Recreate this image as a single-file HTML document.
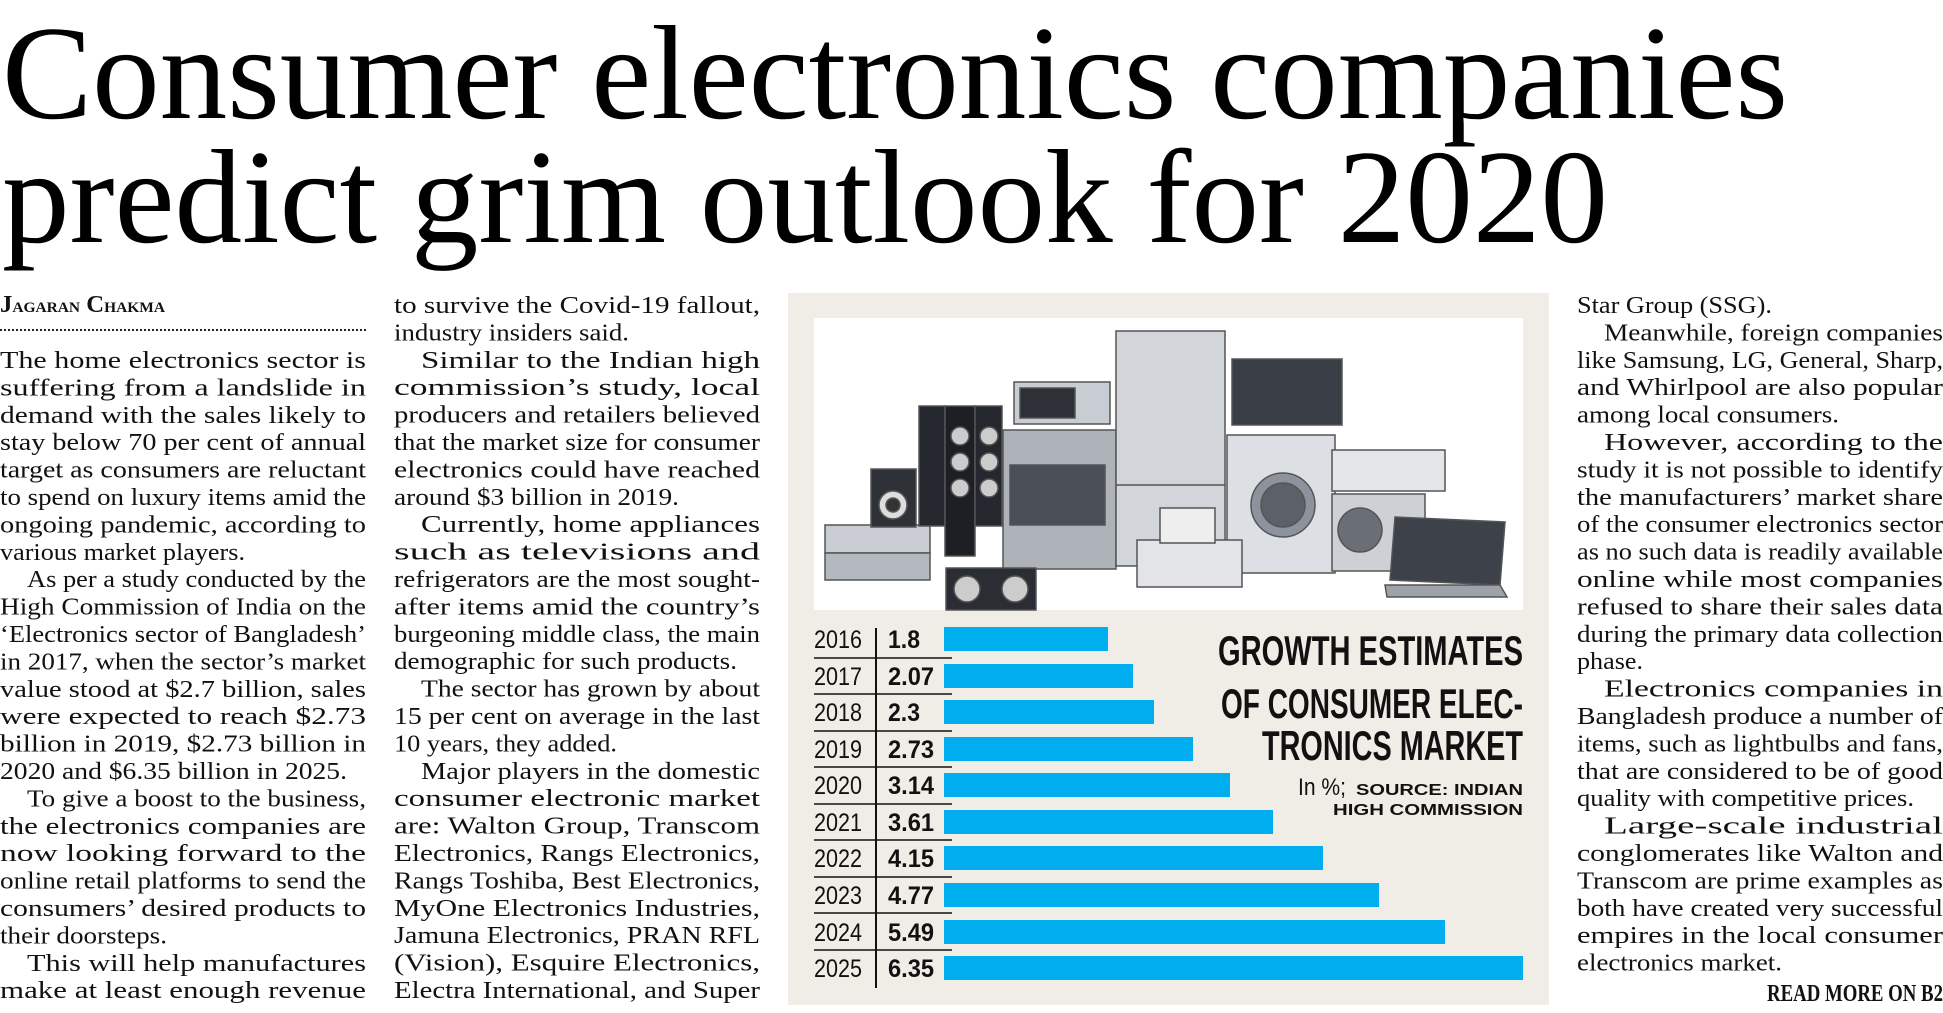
<!DOCTYPE html>
<html><head><meta charset="utf-8"><style>
html,body{margin:0;padding:0;background:#fff;}
svg{display:block;}
.b{font-family:"Liberation Serif",serif;font-size:24px;fill:#111;}
.t{font-family:"Liberation Serif",serif;font-size:134px;fill:#000;}
.yr{font-family:"Liberation Sans Narrow","Liberation Sans",sans-serif;font-size:25px;fill:#111;}
.vl{font-family:"Liberation Sans Narrow","Liberation Sans",sans-serif;font-size:25px;font-weight:bold;fill:#111;}
.ht{font-family:"Liberation Sans Narrow","Liberation Sans",sans-serif;font-size:42px;font-weight:bold;fill:#111;}
.src{font-family:"Liberation Sans",sans-serif;font-size:16px;font-weight:bold;fill:#111;}
</style></head><body>
<svg width="1943" height="1013" viewBox="0 0 1943 1013" xmlns="http://www.w3.org/2000/svg">
<rect width="1943" height="1013" fill="#fff"/>
<text class="t" x="2" y="118" textLength="1786" lengthAdjust="spacingAndGlyphs">Consumer electronics companies</text>
<text class="t" x="2" y="242" textLength="1606" lengthAdjust="spacingAndGlyphs">predict grim outlook for 2020</text>

<text class="b" x="0" y="312" textLength="165" lengthAdjust="spacingAndGlyphs" font-size="20" font-weight="bold">J<tspan font-size="15">AGARAN</tspan> C<tspan font-size="15">HAKMA</tspan></text>
<line x1="0" y1="330" x2="366" y2="330" stroke="#222" stroke-width="2" stroke-dasharray="2,2"/>

<g class="b" lengthAdjust="spacingAndGlyphs">
<text x="0" y="368" textLength="366" lengthAdjust="spacingAndGlyphs">The home electronics sector is</text>
<text x="0" y="395.4" textLength="366" lengthAdjust="spacingAndGlyphs">suffering from a landslide in</text>
<text x="0" y="422.8" textLength="366" lengthAdjust="spacingAndGlyphs">demand with the sales likely to</text>
<text x="0" y="450.2" textLength="366" lengthAdjust="spacingAndGlyphs">stay below 70 per cent of annual</text>
<text x="0" y="477.6" textLength="366" lengthAdjust="spacingAndGlyphs">target as consumers are reluctant</text>
<text x="0" y="505" textLength="366" lengthAdjust="spacingAndGlyphs">to spend on luxury items amid the</text>
<text x="0" y="532.4" textLength="366" lengthAdjust="spacingAndGlyphs">ongoing pandemic, according to</text>
<text x="0" y="559.8" textLength="245" lengthAdjust="spacingAndGlyphs">various market players.</text>
<text x="27" y="587.2" textLength="339" lengthAdjust="spacingAndGlyphs">As per a study conducted by the</text>
<text x="0" y="614.6" textLength="366" lengthAdjust="spacingAndGlyphs">High Commission of India on the</text>
<text x="0" y="642" textLength="366" lengthAdjust="spacingAndGlyphs">‘Electronics sector of Bangladesh’</text>
<text x="0" y="669.4" textLength="366" lengthAdjust="spacingAndGlyphs">in 2017, when the sector’s market</text>
<text x="0" y="696.8" textLength="366" lengthAdjust="spacingAndGlyphs">value stood at $2.7 billion, sales</text>
<text x="0" y="724.2" textLength="366" lengthAdjust="spacingAndGlyphs">were expected to reach $2.73</text>
<text x="0" y="751.6" textLength="366" lengthAdjust="spacingAndGlyphs">billion in 2019, $2.73 billion in</text>
<text x="0" y="779" textLength="347" lengthAdjust="spacingAndGlyphs">2020 and $6.35 billion in 2025.</text>
<text x="27" y="806.4" textLength="339" lengthAdjust="spacingAndGlyphs">To give a boost to the business,</text>
<text x="0" y="833.8" textLength="366" lengthAdjust="spacingAndGlyphs">the electronics companies are</text>
<text x="0" y="861.2" textLength="366" lengthAdjust="spacingAndGlyphs">now looking forward to the</text>
<text x="0" y="888.6" textLength="366" lengthAdjust="spacingAndGlyphs">online retail platforms to send the</text>
<text x="0" y="916" textLength="366" lengthAdjust="spacingAndGlyphs">consumers’ desired products to</text>
<text x="0" y="943.4" textLength="167" lengthAdjust="spacingAndGlyphs">their doorsteps.</text>
<text x="27" y="970.8" textLength="339" lengthAdjust="spacingAndGlyphs">This will help manufactures</text>
<text x="0" y="998.2" textLength="366" lengthAdjust="spacingAndGlyphs">make at least enough revenue</text>

<text x="394" y="313" textLength="366" lengthAdjust="spacingAndGlyphs">to survive the Covid-19 fallout,</text>
<text x="394" y="340.4" textLength="235" lengthAdjust="spacingAndGlyphs">industry insiders said.</text>
<text x="421" y="367.8" textLength="339" lengthAdjust="spacingAndGlyphs">Similar to the Indian high</text>
<text x="394" y="395.2" textLength="366" lengthAdjust="spacingAndGlyphs">commission’s study, local</text>
<text x="394" y="422.6" textLength="366" lengthAdjust="spacingAndGlyphs">producers and retailers believed</text>
<text x="394" y="450" textLength="366" lengthAdjust="spacingAndGlyphs">that the market size for consumer</text>
<text x="394" y="477.4" textLength="366" lengthAdjust="spacingAndGlyphs">electronics could have reached</text>
<text x="394" y="504.8" textLength="285" lengthAdjust="spacingAndGlyphs">around $3 billion in 2019.</text>
<text x="421" y="532.2" textLength="339" lengthAdjust="spacingAndGlyphs">Currently, home appliances</text>
<text x="394" y="559.6" textLength="366" lengthAdjust="spacingAndGlyphs">such as televisions and</text>
<text x="394" y="587" textLength="366" lengthAdjust="spacingAndGlyphs">refrigerators are the most sought-</text>
<text x="394" y="614.4" textLength="366" lengthAdjust="spacingAndGlyphs">after items amid the country’s</text>
<text x="394" y="641.8" textLength="366" lengthAdjust="spacingAndGlyphs">burgeoning middle class, the main</text>
<text x="394" y="669.2" textLength="343" lengthAdjust="spacingAndGlyphs">demographic for such products.</text>
<text x="421" y="696.6" textLength="339" lengthAdjust="spacingAndGlyphs">The sector has grown by about</text>
<text x="394" y="724" textLength="366" lengthAdjust="spacingAndGlyphs">15 per cent on average in the last</text>
<text x="394" y="751.4" textLength="223" lengthAdjust="spacingAndGlyphs">10 years, they added.</text>
<text x="421" y="778.8" textLength="339" lengthAdjust="spacingAndGlyphs">Major players in the domestic</text>
<text x="394" y="806.2" textLength="366" lengthAdjust="spacingAndGlyphs">consumer electronic market</text>
<text x="394" y="833.6" textLength="366" lengthAdjust="spacingAndGlyphs">are: Walton Group, Transcom</text>
<text x="394" y="861" textLength="366" lengthAdjust="spacingAndGlyphs">Electronics, Rangs Electronics,</text>
<text x="394" y="888.4" textLength="366" lengthAdjust="spacingAndGlyphs">Rangs Toshiba, Best Electronics,</text>
<text x="394" y="915.8" textLength="366" lengthAdjust="spacingAndGlyphs">MyOne Electronics Industries,</text>
<text x="394" y="943.2" textLength="366" lengthAdjust="spacingAndGlyphs">Jamuna Electronics, PRAN RFL</text>
<text x="394" y="970.6" textLength="366" lengthAdjust="spacingAndGlyphs">(Vision), Esquire Electronics,</text>
<text x="394" y="998" textLength="366" lengthAdjust="spacingAndGlyphs">Electra International, and Super</text>

<text x="1577" y="313" textLength="195" lengthAdjust="spacingAndGlyphs">Star Group (SSG).</text>
<text x="1604" y="340.4" textLength="339" lengthAdjust="spacingAndGlyphs">Meanwhile, foreign companies</text>
<text x="1577" y="367.8" textLength="366" lengthAdjust="spacingAndGlyphs">like Samsung, LG, General, Sharp,</text>
<text x="1577" y="395.2" textLength="366" lengthAdjust="spacingAndGlyphs">and Whirlpool are also popular</text>
<text x="1577" y="422.6" textLength="262" lengthAdjust="spacingAndGlyphs">among local consumers.</text>
<text x="1604" y="450" textLength="339" lengthAdjust="spacingAndGlyphs">However, according to the</text>
<text x="1577" y="477.4" textLength="366" lengthAdjust="spacingAndGlyphs">study it is not possible to identify</text>
<text x="1577" y="504.8" textLength="366" lengthAdjust="spacingAndGlyphs">the manufacturers’ market share</text>
<text x="1577" y="532.2" textLength="366" lengthAdjust="spacingAndGlyphs">of the consumer electronics sector</text>
<text x="1577" y="559.6" textLength="366" lengthAdjust="spacingAndGlyphs">as no such data is readily available</text>
<text x="1577" y="587" textLength="366" lengthAdjust="spacingAndGlyphs">online while most companies</text>
<text x="1577" y="614.4" textLength="366" lengthAdjust="spacingAndGlyphs">refused to share their sales data</text>
<text x="1577" y="641.8" textLength="366" lengthAdjust="spacingAndGlyphs">during the primary data collection</text>
<text x="1577" y="669.2" textLength="66" lengthAdjust="spacingAndGlyphs">phase.</text>
<text x="1604" y="696.6" textLength="339" lengthAdjust="spacingAndGlyphs">Electronics companies in</text>
<text x="1577" y="724" textLength="366" lengthAdjust="spacingAndGlyphs">Bangladesh produce a number of</text>
<text x="1577" y="751.4" textLength="366" lengthAdjust="spacingAndGlyphs">items, such as lightbulbs and fans,</text>
<text x="1577" y="778.8" textLength="366" lengthAdjust="spacingAndGlyphs">that are considered to be of good</text>
<text x="1577" y="806.2" textLength="337" lengthAdjust="spacingAndGlyphs">quality with competitive prices.</text>
<text x="1604" y="833.6" textLength="339" lengthAdjust="spacingAndGlyphs">Large-scale industrial</text>
<text x="1577" y="861" textLength="366" lengthAdjust="spacingAndGlyphs">conglomerates like Walton and</text>
<text x="1577" y="888.4" textLength="366" lengthAdjust="spacingAndGlyphs">Transcom are prime examples as</text>
<text x="1577" y="915.8" textLength="366" lengthAdjust="spacingAndGlyphs">both have created very successful</text>
<text x="1577" y="943.2" textLength="366" lengthAdjust="spacingAndGlyphs">empires in the local consumer</text>
<text x="1577" y="970.6" textLength="205" lengthAdjust="spacingAndGlyphs">electronics market.</text>
</g>
<text class="b" x="1943" y="1001" text-anchor="end" font-size="17" font-weight="bold" textLength="176" lengthAdjust="spacingAndGlyphs">READ MORE ON B2</text>

<!-- panel -->
<rect x="788" y="293" width="761" height="712" fill="#efede5"/>
<rect x="814" y="318" width="709" height="292" fill="#fff"/>
<g stroke="#555" stroke-width="1.5">
<rect x="825" y="525" width="105" height="28" fill="#c9ccd2"/>
<rect x="825" y="553" width="105" height="27" fill="#b4b8bf"/>
<rect x="871" y="469" width="45" height="58" fill="#2e3138"/>
<circle cx="893" cy="505" r="14" fill="#ddd"/><circle cx="893" cy="505" r="7" fill="#333"/>
<rect x="919" y="406" width="26" height="120" fill="#24272d"/>
<rect x="945" y="406" width="30" height="150" fill="#1c1f24"/>
<rect x="975" y="406" width="27" height="120" fill="#24272d"/>
<circle cx="960" cy="436" r="9" fill="#ccc"/><circle cx="960" cy="462" r="9" fill="#ccc"/><circle cx="960" cy="488" r="9" fill="#ccc"/>
<circle cx="989" cy="436" r="9" fill="#ccc"/><circle cx="989" cy="462" r="9" fill="#ccc"/><circle cx="989" cy="488" r="9" fill="#ccc"/>
<rect x="1003" y="430" width="113" height="139" fill="#aeb2b9"/>
<rect x="1010" y="465" width="95" height="60" fill="#4a4e56"/>
<rect x="1014" y="382" width="96" height="42" fill="#c8ccd3"/>
<rect x="1020" y="388" width="55" height="30" fill="#2d3036"/>
<rect x="1116" y="331" width="109" height="235" fill="#d2d5da"/>
<line x1="1116" y1="485" x2="1225" y2="485"/>
<rect x="1232" y="359" width="110" height="66" fill="#3a3e46"/>
<rect x="1227" y="435" width="108" height="138" fill="#dcdfe3"/>
<circle cx="1283" cy="505" r="32" fill="#8d939c"/><circle cx="1283" cy="505" r="22" fill="#5c6169"/>
<rect x="1332" y="450" width="113" height="41" fill="#e4e6e9"/>
<rect x="1332" y="494" width="93" height="77" fill="#cdd0d5"/>
<circle cx="1360" cy="530" r="22" fill="#6a6f77"/>
<rect x="1137" y="540" width="105" height="47" fill="#e2e4e7"/>
<rect x="1160" y="508" width="55" height="35" fill="#eee"/>
<polygon points="1395,517 1505,522 1500,585 1390,580" fill="#3d4149"/>
<polygon points="1385,585 1500,585 1507,597 1387,597" fill="#9ea3aa"/>
<rect x="946" y="568" width="90" height="42" fill="#2a2d33"/>
<circle cx="967" cy="589" r="13" fill="#ccc"/><circle cx="1015" cy="589" r="13" fill="#ccc"/>
</g>

<!-- chart -->
<g fill="#00aeef">
<rect x="944" y="627" width="164" height="24"/>
<rect x="944" y="664" width="189" height="24"/>
<rect x="944" y="700" width="210" height="24"/>
<rect x="944" y="737" width="249" height="24"/>
<rect x="944" y="773" width="286" height="24"/>
<rect x="944" y="810" width="329" height="24"/>
<rect x="944" y="846" width="379" height="24"/>
<rect x="944" y="883" width="435" height="24"/>
<rect x="944" y="920" width="501" height="24"/>
<rect x="944" y="956" width="579" height="24"/>
</g>
<line x1="876" y1="628" x2="876" y2="988" stroke="#111" stroke-width="2"/>
<g stroke="#111" stroke-width="1.5">
<line x1="814" y1="658" x2="952" y2="658"/><line x1="814" y1="694" x2="952" y2="694"/>
<line x1="814" y1="731" x2="952" y2="731"/><line x1="814" y1="767" x2="952" y2="767"/>
<line x1="814" y1="804" x2="952" y2="804"/><line x1="814" y1="840" x2="952" y2="840"/>
<line x1="814" y1="877" x2="952" y2="877"/><line x1="814" y1="913" x2="952" y2="913"/>
<line x1="814" y1="950" x2="952" y2="950"/>
</g>
<g class="yr">
<text x="814" y="648" textLength="48" lengthAdjust="spacingAndGlyphs">2016</text>
<text x="814" y="685" textLength="48" lengthAdjust="spacingAndGlyphs">2017</text>
<text x="814" y="721" textLength="48" lengthAdjust="spacingAndGlyphs">2018</text>
<text x="814" y="758" textLength="48" lengthAdjust="spacingAndGlyphs">2019</text>
<text x="814" y="794" textLength="48" lengthAdjust="spacingAndGlyphs">2020</text>
<text x="814" y="831" textLength="48" lengthAdjust="spacingAndGlyphs">2021</text>
<text x="814" y="867" textLength="48" lengthAdjust="spacingAndGlyphs">2022</text>
<text x="814" y="904" textLength="48" lengthAdjust="spacingAndGlyphs">2023</text>
<text x="814" y="941" textLength="48" lengthAdjust="spacingAndGlyphs">2024</text>
<text x="814" y="977" textLength="48" lengthAdjust="spacingAndGlyphs">2025</text>
</g>
<g class="vl">
<text x="888" y="648" textLength="32" lengthAdjust="spacingAndGlyphs">1.8</text>
<text x="888" y="685" textLength="46" lengthAdjust="spacingAndGlyphs">2.07</text>
<text x="888" y="721" textLength="32" lengthAdjust="spacingAndGlyphs">2.3</text>
<text x="888" y="758" textLength="46" lengthAdjust="spacingAndGlyphs">2.73</text>
<text x="888" y="794" textLength="46" lengthAdjust="spacingAndGlyphs">3.14</text>
<text x="888" y="831" textLength="46" lengthAdjust="spacingAndGlyphs">3.61</text>
<text x="888" y="867" textLength="46" lengthAdjust="spacingAndGlyphs">4.15</text>
<text x="888" y="904" textLength="46" lengthAdjust="spacingAndGlyphs">4.77</text>
<text x="888" y="941" textLength="46" lengthAdjust="spacingAndGlyphs">5.49</text>
<text x="888" y="977" textLength="46" lengthAdjust="spacingAndGlyphs">6.35</text>
</g>
<g class="ht" text-anchor="end">
<text x="1523" y="665" textLength="305" lengthAdjust="spacingAndGlyphs">GROWTH ESTIMATES</text>
<text x="1523" y="718" textLength="302" lengthAdjust="spacingAndGlyphs">OF CONSUMER ELEC-</text>
<text x="1523" y="760" textLength="261" lengthAdjust="spacingAndGlyphs">TRONICS MARKET</text>
</g>
<text x="1298" y="795" font-family="Liberation Sans Narrow, Liberation Sans, sans-serif" font-size="24" fill="#111" textLength="48" lengthAdjust="spacingAndGlyphs">In %;</text>
<text class="src" x="1523" y="795" text-anchor="end" textLength="167" lengthAdjust="spacingAndGlyphs">SOURCE: INDIAN</text>
<text class="src" x="1523" y="815" text-anchor="end" textLength="190" lengthAdjust="spacingAndGlyphs">HIGH COMMISSION</text>
</svg>
</body></html>
